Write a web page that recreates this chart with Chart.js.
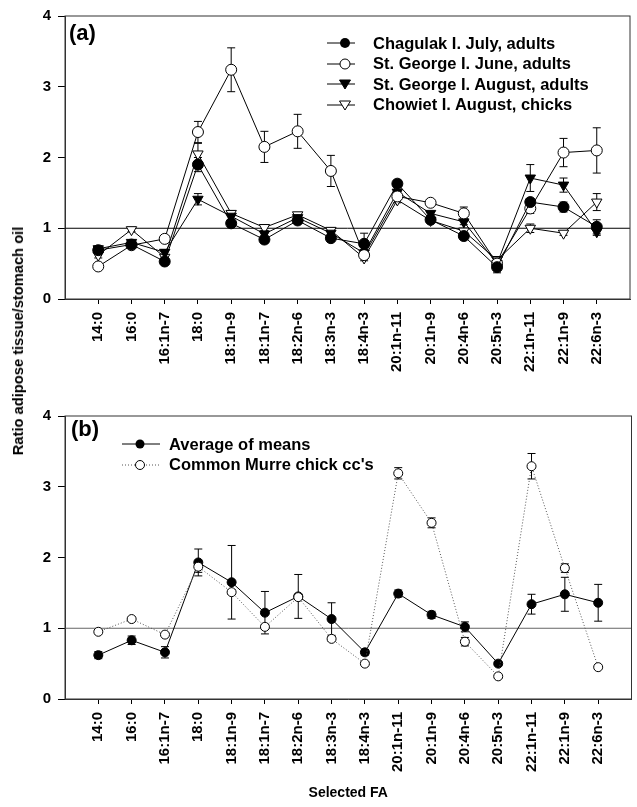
<!DOCTYPE html>
<html lang="en">
<head>
    <meta charset="UTF-8">
    <script src="https://cdn.jsdelivr.net/npm/chart.js@4.4.1/dist/chart.umd.min.js"></script>
    <title>Ratio adipose tissue / stomach oil</title>
    <style>
        * { margin: 0; padding: 0; box-sizing: border-box; }
        body {
            width: 637px;
            height: 807px;
            background: #ffffff;
            position: relative;
            overflow: hidden;
            font-family: 'Liberation Sans', Arial, sans-serif;
            font-weight: bold;
            color: #000;
        }
        .panel { position: absolute; left: 0; width: 637px; }
        #panelA { top: 0; height: 400px; }
        #panelB { top: 400px; height: 407px; }
        .tag { position: absolute; font-size: 22px; }
        .legend { position: absolute; font-size: 16.5px; }
        .legend .row { display: flex; align-items: center; height: 20.5px; white-space: nowrap; }
        .ytitle {
            position: absolute;
            left: 18px;
            top: 341px;
            font-size: 14.7px;
            white-space: nowrap;
            transform: translate(-50%, -50%) rotate(-90deg);
        }
    </style>
</head>
<body>
    <div class="panel" id="panelA"><canvas id="chartA"></canvas></div>
    <div class="panel" id="panelB"><canvas id="chartB"></canvas></div>

    <div class="tag" style="left:69px; top:20px;">(a)</div>
    <div class="tag" style="left:71px; top:416px;">(b)</div>

    <div class="legend" style="left:327px; top:33px;">
        <div class="row"><svg width="28" height="12" style="margin-right:18px"><line x1="0" y1="6" x2="28" y2="6" stroke="#000"/><circle cx="18" cy="6" r="5" fill="#000"/></svg>Chagulak I. July, adults</div>
        <div class="row"><svg width="28" height="12" style="margin-right:18px"><line x1="0" y1="6" x2="28" y2="6" stroke="#000"/><circle cx="18" cy="6" r="5" fill="#fff" stroke="#000"/></svg>St. George I. June, adults</div>
        <div class="row"><svg width="28" height="12" style="margin-right:18px"><line x1="0" y1="6" x2="28" y2="6" stroke="#000"/><polygon points="12.5,2 23.5,2 18,11" fill="#000" stroke="#000"/></svg>St. George I. August, adults</div>
        <div class="row"><svg width="28" height="12" style="margin-right:18px"><line x1="0" y1="6" x2="28" y2="6" stroke="#000"/><polygon points="12.5,2 23.5,2 18,11" fill="#fff" stroke="#000"/></svg>Chowiet I. August, chicks</div>
    </div>

    <div class="legend" style="left:122px; top:434px;">
        <div class="row"><svg width="38" height="12" style="margin-right:9px"><line x1="0" y1="6" x2="38" y2="6" stroke="#000"/><circle cx="18" cy="6" r="4.5" fill="#000"/></svg>Average of means</div>
        <div class="row"><svg width="38" height="12" style="margin-right:9px"><line x1="0" y1="6" x2="38" y2="6" stroke="#555" stroke-dasharray="1,2"/><circle cx="18" cy="6" r="4.5" fill="#fff" stroke="#000"/></svg>Common Murre chick cc's</div>
    </div>

    <div class="ytitle">Ratio adipose tissue/stomach oil</div>

    <script>
        // fatty acids on the x axis
        const faLabels = ['14:0', '16:0', '16:1n-7', '18:0', '18:1n-9', '18:1n-7', '18:2n-6', '18:3n-3',
            '18:4n-3', '20:1n-11', '20:1n-9', '20:4n-6', '20:5n-3', '22:1n-11', '22:1n-9', '22:6n-3'];
        const yTicks = [0, 1, 2, 3, 4];

        // panel (a) means and error bars
        const chagulak    = [0.69, 0.77, 0.53, 1.90, 1.07, 0.84, 1.11, 0.86, 0.78, 1.63, 1.12, 0.89, 0.45, 1.37, 1.30, 1.02];
        const chagulakErr = [0.04, 0.03, 0.04, 0.10, 0.04, 0.05, 0.04, 0.05, 0.15, 0.05, 0.03, 0.05, 0.08, 0.05, 0.07, 0.10];
        const georgeJune    = [0.46, 0.76, 0.85, 2.36, 3.24, 2.15, 2.37, 1.81, 0.62, 1.45, 1.36, 1.21, 0.50, 1.28, 2.07, 2.10];
        const georgeJuneErr = [0.04, 0.03, 0.03, 0.15, 0.31, 0.22, 0.24, 0.22, 0.05, 0.04, 0.03, 0.09, 0.04, 0.07, 0.20, 0.32];
        const georgeAug    = [0.71, 0.80, 0.66, 1.41, 1.17, 0.92, 1.15, 0.93, 0.65, 1.51, 1.21, 1.09, 0.50, 1.71, 1.61, 0.95];
        const georgeAugErr = [0.04, 0.03, 0.04, 0.08, 0.05, 0.04, 0.04, 0.04, 0.05, 0.04, 0.03, 0.04, 0.10, 0.19, 0.10, 0.05];
        const chowiet    = [0.62, 0.98, 0.59, 2.05, 1.21, 1.01, 1.19, 0.97, 0.58, 1.40, 1.11, 0.96, 0.55, 1.00, 0.93, 1.37];
        const chowietErr = [0.04, 0.03, 0.04, 0.15, 0.04, 0.04, 0.03, 0.04, 0.04, 0.04, 0.03, 0.04, 0.05, 0.06, 0.03, 0.12];

        // panel (b)
        const avgMeans    = [0.62, 0.83, 0.66, 1.93, 1.65, 1.22, 1.45, 1.13, 0.66, 1.49, 1.19, 1.02, 0.50, 1.34, 1.48, 1.36];
        const avgMeansErr = [0.05, 0.06, 0.08, 0.19, 0.52, 0.30, 0.31, 0.23, 0.04, 0.05, 0.05, 0.07, 0.03, 0.14, 0.24, 0.26];
        const murre    = [0.95, 1.13, 0.91, 1.87, 1.51, 1.02, 1.44, 0.85, 0.50, 3.19, 2.49, 0.81, 0.32, 3.29, 1.85, 0.45];
        const murreErr = [0.02, 0.02, 0.02, 0.08, 0.03, 0.03, 0.03, 0.03, 0.03, 0.08, 0.07, 0.06, 0.03, 0.18, 0.06, 0.02];

        const fontFamily = "'Liberation Sans', Arial, sans-serif";

        function points(values) {
            return values.map((v, i) => ({ x: i + 1, y: v }));
        }

        function series(values, errors, filled, style, extra) {
            return Object.assign({
                data: points(values),
                errors: errors,
                borderColor: '#000',
                borderWidth: 1,
                backgroundColor: filled ? '#000' : '#fff',
                pointBorderColor: '#000',
                pointBorderWidth: 1,
                pointStyle: style,
                pointRotation: style === 'triangle' ? 180 : 0,
                pointRadius: style === 'triangle' ? 6 : 5.5,
                tension: 0,
                fill: false
            }, extra || {});
        }

        // error bars + the ratio = 1 reference line, drawn behind the markers
        const extrasPlugin = {
            id: 'extras',
            beforeDatasetsDraw(chart, args, opts) {
                const { ctx, chartArea, scales } = chart;
                const yOne = scales.y.getPixelForValue(1);
                ctx.save();
                ctx.strokeStyle = opts.refColor;
                ctx.lineWidth = 1;
                ctx.beginPath();
                ctx.moveTo(chartArea.left, yOne);
                ctx.lineTo(chartArea.right, yOne);
                ctx.stroke();

                ctx.strokeStyle = opts.barColor;
                chart.data.datasets.forEach((ds, di) => {
                    const meta = chart.getDatasetMeta(di);
                    ds.data.forEach((p, i) => {
                        const e = ds.errors[i];
                        const x = meta.data[i].x;
                        const top = scales.y.getPixelForValue(p.y + e);
                        const bot = scales.y.getPixelForValue(p.y - e);
                        ctx.beginPath();
                        ctx.moveTo(x, top); ctx.lineTo(x, bot);
                        ctx.moveTo(x - 4, top); ctx.lineTo(x + 4, top);
                        ctx.moveTo(x - 4, bot); ctx.lineTo(x + 4, bot);
                        ctx.stroke();
                    });
                });
                ctx.restore();
            },
            afterDraw(chart) {
                const { ctx, chartArea } = chart;
                ctx.save();
                ctx.strokeStyle = '#333';
                ctx.lineWidth = 1;
                ctx.strokeRect(chartArea.left, chartArea.top,
                    chartArea.right - chartArea.left, chartArea.bottom - chartArea.top);
                ctx.restore();
            }
        };

        function makeOptions(topPad, xHeight, withTitle, refColor) {
            return {
                responsive: false,
                animation: false,
                layout: { padding: { top: topPad, right: 2, left: 0, bottom: 0 } },
                plugins: {
                    legend: { display: false },
                    tooltip: { enabled: false },
                    extras: { refColor: refColor, barColor: '#000' }
                },
                scales: {
                    x: {
                        type: 'linear',
                        min: 0,
                        max: faLabels.length + 1,
                        afterBuildTicks: (scale) => {
                            scale.ticks = faLabels.map((_, i) => ({ value: i + 1 }));
                        },
                        afterFit: (scale) => { scale.height = xHeight; },
                        border: { display: true, color: '#333' },
                        grid: { drawOnChartArea: false, drawTicks: true, tickLength: 5, color: '#000' },
                        ticks: {
                            autoSkip: false,
                            minRotation: 90,
                            maxRotation: 90,
                            padding: 8,
                            color: '#000',
                            font: { family: fontFamily, size: 15, weight: 'bold' },
                            callback: (v) => faLabels[v - 1] || ''
                        },
                        title: {
                            display: withTitle,
                            text: 'Selected FA',
                            color: '#000',
                            padding: { top: 4, bottom: 5 },
                            font: { family: fontFamily, size: 14, weight: 'bold' }
                        }
                    },
                    y: {
                        min: 0,
                        max: 4,
                        afterBuildTicks: (scale) => {
                            scale.ticks = yTicks.map(v => ({ value: v }));
                        },
                        afterFit: (scale) => { scale.width = 65; },
                        border: { display: true, color: '#333' },
                        grid: { drawOnChartArea: false, drawTicks: true, tickLength: 7, color: '#000' },
                        ticks: {
                            padding: 7,
                            color: '#000',
                            font: { family: fontFamily, size: 15, weight: 'bold' }
                        }
                    }
                }
            };
        }

        function sizeCanvas(id, w, h) {
            const c = document.getElementById(id);
            c.width = w; c.height = h;
            c.style.width = w + 'px'; c.style.height = h + 'px';
            return c;
        }

        new Chart(sizeCanvas('chartA', 637, 400), {
            type: 'line',
            data: {
                datasets: [
                    series(chagulak, chagulakErr, true, 'circle'),
                    series(georgeJune, georgeJuneErr, false, 'circle'),
                    series(georgeAug, georgeAugErr, true, 'triangle'),
                    series(chowiet, chowietErr, false, 'triangle')
                ]
            },
            options: makeOptions(15, 101, false, '#000'),
            plugins: [extrasPlugin]
        });

        new Chart(sizeCanvas('chartB', 637, 407), {
            type: 'line',
            data: {
                datasets: [
                    series(murre, murreErr, false, 'circle', { borderColor: '#555', borderDash: [1, 2], pointRadius: 4.5 }),
                    series(avgMeans, avgMeansErr, true, 'circle', { pointRadius: 4.5 })
                ]
            },
            options: makeOptions(13, 108, true, '#666'),
            plugins: [extrasPlugin]
        });
    </script>
</body>
</html>
